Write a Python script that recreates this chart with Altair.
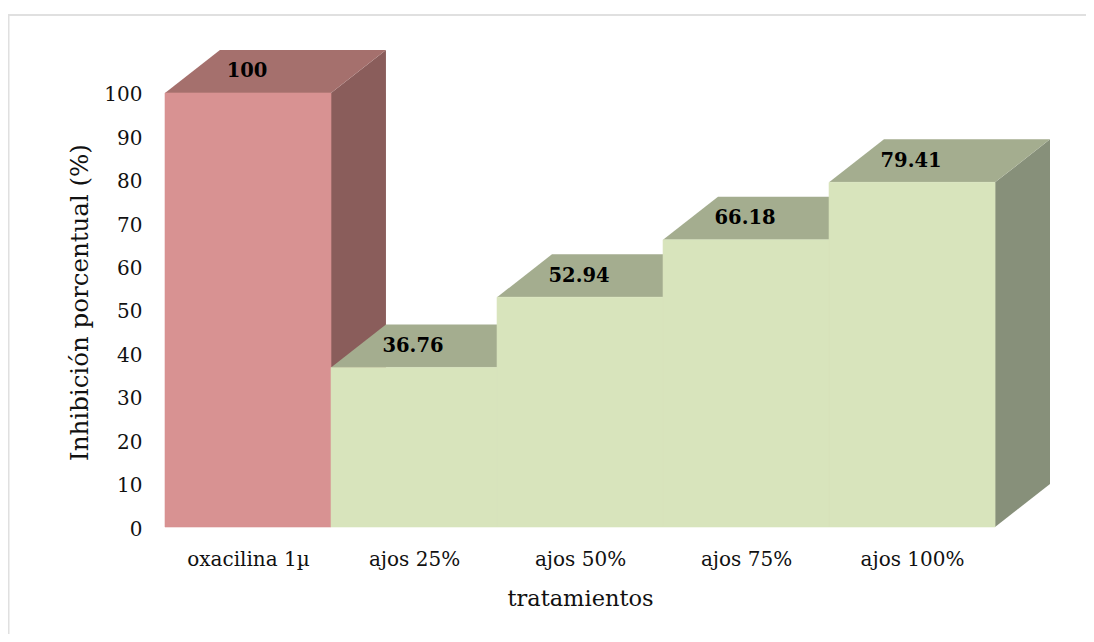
import altair as alt
import pandas as pd

categories = ["oxacilina 1µ", "ajos 25%", "ajos 50%", "ajos 75%", "ajos 100%"]
values = [100, 36.76, 52.94, 66.18, 79.41]
labels = ["100", "36.76", "52.94", "66.18", "79.41"]
groups = ["control", "ajos", "ajos", "ajos", "ajos"]
y_ticks = list(range(0, 101, 10))
front_colors = ["#D89292", "#D8E4BC"]
top_colors = ["#A5706D", "#A4AD8F"]
side_colors = ["#8A5D5B", "#87907A"]
group_domain = ["control", "ajos"]

DX, DY = 0.331, 9.9
FONT = "DejaVu Serif"

front, tops, sides, texts = [], [], [], []
for i, (c, v, g, l) in enumerate(zip(categories, values, groups, labels)):
    front.append(dict(x=i, x2=i + 1, y=0, y2=v, g=g))
    texts.append(dict(x=i + 0.5, y=v + DY * 0.5, t=l))
    for x, y, y2 in [(i, v, v), (i + DX, v + DY, v), (i + 1, v + DY, v), (i + 1 + DX, v + DY, v + DY)]:
        tops.append(dict(x=x, y=y, y2=y2, g=g, c=c))
    for x, y, y2 in [(i + 1, v, 0), (i + 1 + DX, v + DY, DY)]:
        sides.append(dict(x=x, y=y, y2=y2, g=g, c=c))

xs = alt.Scale(domain=[0, 5 + DX], nice=False, zero=False)
ys = alt.Scale(domain=[0, 100 + DY], nice=False, zero=False)
label_expr = "[" + ",".join(repr(c) for c in categories) + "][datum.value-0.5]"

x_enc = alt.X("x:Q", scale=xs, axis=alt.Axis(
    values=[i + 0.5 for i in range(5)], labelExpr=label_expr, ticks=False, domain=False,
    grid=False, title="tratamientos", labelFont=FONT, labelFontSize=20, labelColor="#111",
    labelPadding=22, titleFont=FONT, titleFontSize=22.5, titleFontWeight="normal",
    titleColor="#111", titleX=415, titleY=71, titleBaseline="middle", labelFlush=False, labelOverlap=False))
y_enc = alt.Y("y:Q", scale=ys, axis=alt.Axis(
    values=y_ticks, ticks=False, domain=False, grid=False, title="Inhibición porcentual (%)",
    labelFont=FONT, labelFontSize=20, labelColor="#111", labelPadding=23, labelOffset=2,
    titleFont=FONT, titleFontSize=24.5, titleFontWeight="normal", titleColor="#111",
    titleX=-85, titleY=252, titleBaseline="middle"))

def col(r):
    return alt.Color("g:N", scale=alt.Scale(domain=group_domain, range=r), legend=None)

def stroke(r):
    return alt.Stroke("g:N", scale=alt.Scale(domain=group_domain, range=r), legend=None)

side_l = alt.Chart(pd.DataFrame(sides)).mark_area(orient="vertical", opacity=1).encode(
    x=x_enc, y=y_enc, y2="y2:Q", detail="c:N", color=col(side_colors))
top_l = alt.Chart(pd.DataFrame(tops)).mark_area(orient="vertical", opacity=1).encode(
    x=alt.X("x:Q", scale=xs), y=alt.Y("y:Q", scale=ys), y2="y2:Q", detail="c:N", color=col(top_colors))
front_l = alt.Chart(pd.DataFrame(front)).mark_rect(opacity=1, strokeWidth=0.6).encode(
    x=alt.X("x:Q", scale=xs), x2="x2:Q", y=alt.Y("y:Q", scale=ys), y2="y2:Q",
    color=col(front_colors), stroke=stroke(front_colors))
text_l = alt.Chart(pd.DataFrame(texts)).mark_text(
    font=FONT, fontSize=19.5, fontWeight="bold", color="#000", align="center", baseline="middle", dx=-1).encode(
    x=alt.X("x:Q", scale=xs), y=alt.Y("y:Q", scale=ys), text="t:N")
anchor = pd.DataFrame({"a": [0]})
border_top = alt.Chart(anchor).mark_rule(stroke="#E0E0E0", strokeWidth=2).encode(
    x=alt.value(-157), x2=alt.value(929), y=alt.value(-35))
border_left = alt.Chart(anchor).mark_rule(stroke="#E0E0E0", strokeWidth=2).encode(
    x=alt.value(-156.5), y=alt.value(-35), y2=alt.value(592))

chart = alt.layer(border_top, border_left, side_l, top_l, front_l, text_l).resolve_scale(color="independent", stroke="independent").properties(
    width=885, height=477,
    padding={"left": 157, "top": 42, "right": 36, "bottom": 107},
    autosize=alt.AutoSizeParams(type="none"),
    background="white",
).configure_view(stroke=None)

chart.save("out.html", embed_options={"renderer": "svg", "actions": False})
